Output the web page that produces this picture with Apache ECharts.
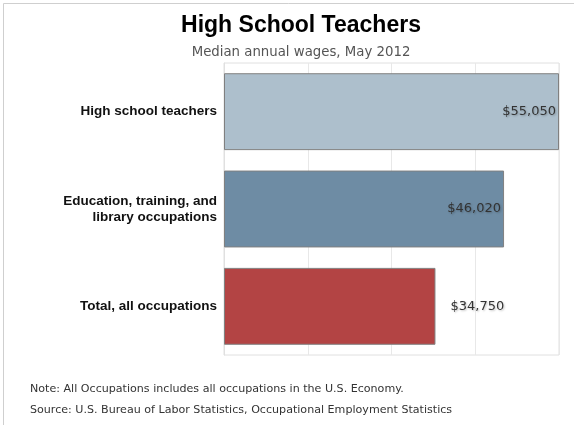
<!DOCTYPE html>
<html><head><meta charset="utf-8">
<script src="https://cdn.jsdelivr.net/npm/echarts@6/dist/echarts.min.js"></script>
<style>html,body{margin:0;padding:0;background:#fff}#c{width:574px;height:425px}</style>
</head><body><div id="c"></div>
<script>
const categories = ['High school teachers', 'Education, training, and\nlibrary occupations', 'Total, all occupations'];
const wages = [55050, 46020, 34750];
const barColors = ['#adbfcc', '#6e8ca4', '#b34444'];
const labelPositions = ['insideRight', 'insideRight', 'right'];
const axisMax = 55050;

const chart = echarts.init(document.getElementById('c'));
chart.setOption({
  animation: false,
  backgroundColor: '#fff',
  title: [
    {text: 'High School Teachers', left: 296, textAlign: 'center', top: 9, textStyle: {fontFamily: 'Liberation Sans, Arial', fontWeight: 'bold', fontSize: 23, color: '#000'}},
    {text: 'Median annual wages, May 2012', left: 296, textAlign: 'center', top: 41, textStyle: {fontFamily: 'DejaVu Sans', fontWeight: 'normal', fontSize: 13.3, color: '#555'}}
  ],
  graphic: [
    {type: 'line', shape: {x1: 3.5, y1: 3.5, x2: 574, y2: 3.5}, style: {stroke: '#cfcfcf', lineWidth: 1}},
    {type: 'line', shape: {x1: 3.5, y1: 3.5, x2: 3.5, y2: 425}, style: {stroke: '#cfcfcf', lineWidth: 1}},
    {type: 'text', left: 30, top: 384, style: {text: 'Note: All Occupations includes all occupations in the U.S. Economy.', font: '11.1px DejaVu Sans', fill: '#333'}},
    {type: 'text', left: 30, top: 405, style: {text: 'Source: U.S. Bureau of Labor Statistics, Occupational Employment Statistics', font: '11.1px DejaVu Sans', fill: '#333'}}
  ],
  grid: {left: 224, right: 15, top: 63, bottom: 70, show: true, borderColor: '#e0e0e0', borderWidth: 1},
  xAxis: {type: 'value', min: 0, max: axisMax, interval: axisMax / 4,
    axisLabel: {show: false}, axisTick: {show: false}, axisLine: {show: false},
    splitLine: {lineStyle: {color: '#e8e8e8'}}},
  yAxis: {type: 'category', data: categories, inverse: true,
    axisTick: {show: false}, axisLine: {lineStyle: {color: '#e0e0e0'}},
    axisLabel: {fontFamily: 'Liberation Sans, Arial', fontWeight: 'bold', fontSize: 13.5, color: '#111', margin: 7, lineHeight: 16, align: 'right'}},
  series: [{
    type: 'bar', barCategoryGap: '21%',
    data: wages.map((v, i) => ({value: v, itemStyle: {color: barColors[i]},
      label: {position: labelPositions[i], distance: labelPositions[i] === 'right' ? 15 : 3}})),
    itemStyle: {borderColor: '#808080', borderWidth: 1},
    label: {show: true, fontFamily: 'DejaVu Sans', fontSize: 13, color: '#333',
      textShadowColor: 'rgba(0,0,0,0.25)', textShadowBlur: 2, textShadowOffsetX: 1, textShadowOffsetY: 1,
      formatter: p => '$' + p.value.toLocaleString('en-US')}
  }]
});
</script></body></html>
